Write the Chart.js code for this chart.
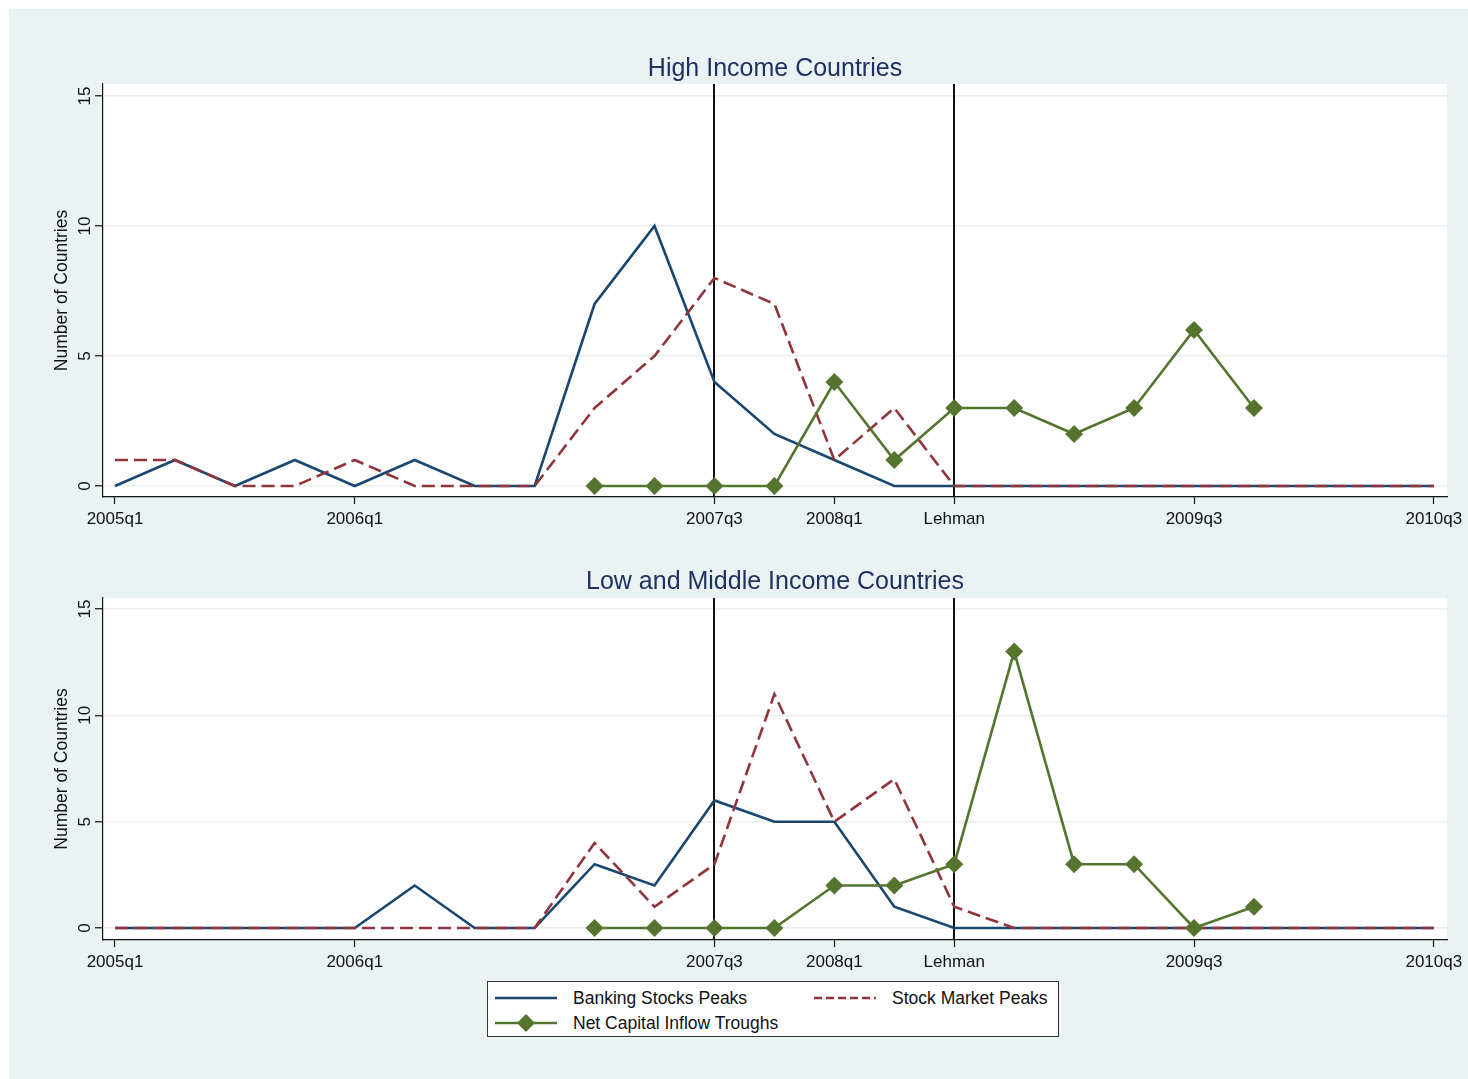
<!DOCTYPE html>
<html><head><meta charset="utf-8">
<script src="https://cdn.jsdelivr.net/npm/chart.js@4"></script>
<style>
html,body{margin:0;padding:0;background:#fff;width:1468px;height:1079px;overflow:hidden;font-family:"Liberation Sans",Arial,sans-serif;}
#bg{position:absolute;left:9px;top:9px;width:1459px;height:1070px;background:#EAF2F3;}
canvas{position:absolute;left:0;}
#c1{top:0;}
#c2{top:520px;}
#legend{position:absolute;left:487px;top:981px;width:572px;height:56px;background:#fff;border:1px solid #333;box-sizing:border-box;}
#legend .item{position:absolute;font-size:17.5px;color:#111;white-space:nowrap;line-height:20px;}
#legend svg{position:absolute;}
</style>
</head>
<body>
<div id="bg"></div>
<canvas id="c1" width="1468" height="560"></canvas>
<canvas id="c2" width="1468" height="540"></canvas>
<div id="legend"></div>
<script>
// ---- data ----
const quarters = ['2005q1','2005q2','2005q3','2005q4','2006q1','2006q2','2006q3','2006q4','2007q1','2007q2','2007q3','2007q4','2008q1','2008q2','2008q3','2008q4','2009q1','2009q2','2009q3','2009q4','2010q1','2010q2','2010q3'];
const xTickIdx = [0, 4, 10, 12, 14, 18, 22];
const xTickLabels = ['2005q1','2006q1','2007q3','2008q1','Lehman','2009q3','2010q3'];
const yTicks = [0, 5, 10, 15];
const eventLines = [10, 14];
const seriesNames = ['Banking Stocks Peaks', 'Stock Market Peaks', 'Net Capital Inflow Troughs'];
const panelTitles = ['High Income Countries', 'Low and Middle Income Countries'];

const hiBanking = [0,1,0,1,0,1,0,0,7,10,4,2,1,0,0,0,0,0,0,0,0,0,0];
const hiStock   = [1,1,0,0,1,0,0,0,3,5,8,7,1,3,0,0,0,0,0,0,0,0,0];
const hiCapital = [null,null,null,null,null,null,null,null,0,0,0,0,4,1,3,3,2,3,6,3,null,null,null];

const lmBanking = [0,0,0,0,0,2,0,0,3,2,6,5,5,1,0,0,0,0,0,0,0,0,0];
const lmStock   = [0,0,0,0,0,0,0,0,4,1,3,11,5,7,1,0,0,0,0,0,0,0,0];
const lmCapital = [null,null,null,null,null,null,null,null,0,0,0,0,2,2,3,13,3,3,0,1,null,null,null];

// ---- style ----
const NAVY = '#1a476f', MAROON = '#90353b', GREEN = '#55752f';
const FONT = '"Liberation Sans", Arial, Helvetica, sans-serif';

function toPts(arr){ const out=[]; arr.forEach((v,i)=>{ if(v!==null) out.push({x:i,y:v}); }); return out; }

const panelPlugin = {
  id: 'panel',
  beforeDraw(chart){
    const a = chart.chartArea, ctx = chart.ctx;
    ctx.save(); ctx.fillStyle = '#fff';
    ctx.fillRect(a.left, a.top, a.right - a.left, a.bottom - a.top);
    ctx.restore();
  },
  beforeDatasetsDraw(chart){
    const a = chart.chartArea, ctx = chart.ctx, xs = chart.scales.x;
    ctx.save(); ctx.strokeStyle = '#111'; ctx.lineWidth = 2;
    eventLines.forEach(v => {
      const px = Math.round(xs.getPixelForValue(v));
      ctx.beginPath(); ctx.moveTo(px, a.top); ctx.lineTo(px, a.bottom); ctx.stroke();
    });
    ctx.restore();
  },
  afterDraw(chart, args, opts){
    const ctx = chart.ctx, ys = chart.scales.y, a = chart.chartArea;
    ctx.save(); ctx.fillStyle = '#111'; ctx.font = '17px ' + FONT;
    ctx.textAlign = 'center'; ctx.textBaseline = 'middle';
    ys.ticks.forEach(t => {
      const py = ys.getPixelForValue(t.value);
      ctx.save(); ctx.translate(85, py); ctx.rotate(-Math.PI/2);
      ctx.fillText(String(t.value), 0, 0); ctx.restore();
    });
    // panel title centred over the plot region
    ctx.fillStyle = '#1f3160'; ctx.font = '25px ' + FONT;
    ctx.fillText(opts.title, (a.left + a.right) / 2, a.top - opts.titleOffset);
    ctx.restore();
  }
};

function makeChart(id, title, banking, stock, capital, cfg){
  return new Chart(document.getElementById(id), {
    type: 'line',
    data: {
      datasets: [
        { label: seriesNames[2], data: toPts(capital), borderColor: GREEN, backgroundColor: GREEN, borderWidth: 2.6,
          pointStyle: 'rectRot', pointRadius: 9, pointBorderWidth: 0, order: 1 },
        { label: seriesNames[1], data: toPts(stock), borderColor: MAROON, borderWidth: 2.6, borderDash: [13, 6],
          pointRadius: 0, order: 2 },
        { label: seriesNames[0], data: toPts(banking), borderColor: NAVY, borderWidth: 2.6,
          pointRadius: 0, order: 3 }
      ]
    },
    options: {
      responsive: false, animation: false, devicePixelRatio: 1,
      layout: { padding: { left: 0, right: 21, top: cfg.padTop, bottom: cfg.padBottom } },
      plugins: {
        legend: { display: false }, tooltip: { enabled: false }, title: { display: false },
        panel: { title: title, titleOffset: cfg.titleOffset }
      },
      elements: { line: { tension: 0 } },
      scales: {
        x: {
          type: 'linear', min: -0.2, max: 22.22,
          afterBuildTicks: s => { s.ticks = xTickIdx.map(v => ({ value: v })); },
          afterFit: s => { s.height = 40; },
          ticks: { autoSkip: false, maxRotation: 0, color: '#111', font: { family: FONT, size: 17 }, padding: 5,
            callback: v => { const k = xTickIdx.indexOf(v); return k >= 0 ? xTickLabels[k] : ''; } },
          grid: { drawOnChartArea: false, drawTicks: true, tickLength: 7, tickColor: '#111', tickWidth: 1.2 },
          border: { display: true, color: '#111', width: 1.2 }
        },
        y: {
          min: cfg.ymin, max: cfg.ymax,
          afterBuildTicks: s => { s.ticks = yTicks.map(v => ({ value: v })); },
          afterFit: s => { s.width = 103; },
          ticks: { display: false },
          title: { display: true, text: 'Number of Countries', color: '#111', font: { family: FONT, size: 17.5 },
            padding: { top: 52, bottom: 0 } },
          grid: { drawOnChartArea: true, color: '#E6EEF0', lineWidth: 1.5, drawTicks: true, tickLength: 8,
            tickColor: '#111', tickWidth: 1.2 },
          border: { display: true, color: '#111', width: 1.2 }
        }
      }
    },
    plugins: [panelPlugin]
  });
}

// top: chart area 84..497 in canvas at top 0 (height 560)
makeChart('c1', panelTitles[0], hiBanking, hiStock, hiCapital,
  { padTop: 84, padBottom: 560 - 497 - 40, ymin: -0.423, ymax: 15.46, titleOffset: 15 });
// bottom: canvas at top 520; chart area 598..940 -> 78..420
makeChart('c2', panelTitles[1], lmBanking, lmStock, lmCapital,
  { padTop: 78, padBottom: 540 - 420 - 40, ymin: -0.564, ymax: 15.52, titleOffset: 16 });

// ---- legend (HTML) ----
const lg = document.getElementById('legend');
function sample(x, y, color, dash, marker){
  let s = `<svg style="left:${x}px;top:${y-10}px" width="70" height="20">` +
    `<line x1="0" y1="10" x2="62" y2="10" stroke="${color}" stroke-width="2.6" ${dash ? 'stroke-dasharray="8,4"' : ''}/>`;
  if (marker) s += `<polygon points="31,1 40,10 31,19 22,10" fill="${color}"/>`;
  return s + '</svg>';
}
const rowY = [16, 41];
lg.innerHTML =
  sample(7, rowY[0], NAVY, false, false) + `<div class="item" style="left:85px;top:${rowY[0]-10}px">${seriesNames[0]}</div>` +
  sample(326, rowY[0], MAROON, true, false) + `<div class="item" style="left:404px;top:${rowY[0]-10}px">${seriesNames[1]}</div>` +
  sample(7, rowY[1], GREEN, false, true) + `<div class="item" style="left:85px;top:${rowY[1]-10}px">${seriesNames[2]}</div>`;
</script>
</body></html>
